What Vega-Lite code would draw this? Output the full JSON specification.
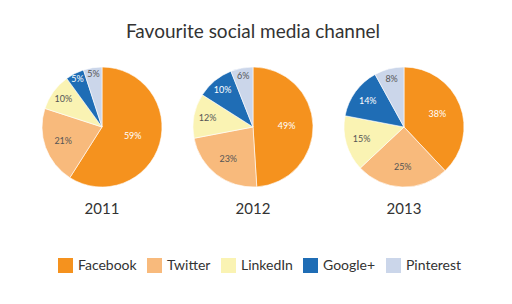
{
  "$schema": "https://vega.github.io/schema/vega-lite/v6.json",
  "padding": {"left": 27, "top": 23, "right": 5, "bottom": 5},
  "background": "white",
  "title": {"text": "Favourite social media channel", "fontSize": 19, "font": "Lato", "fontWeight": "normal", "color": "#333333", "offset": 20, "anchor": "middle"},
  "config": {"view": {"stroke": null}, "font": "Lato"},
  "data": {"values": [
    {"year": "2011", "channel": "Facebook", "k": 1, "share": 59},
    {"year": "2011", "channel": "Twitter", "k": 2, "share": 21},
    {"year": "2011", "channel": "LinkedIn", "k": 3, "share": 10},
    {"year": "2011", "channel": "Google+", "k": 4, "share": 5},
    {"year": "2011", "channel": "Pinterest", "k": 5, "share": 5},
    {"year": "2012", "channel": "Facebook", "k": 1, "share": 49},
    {"year": "2012", "channel": "Twitter", "k": 2, "share": 23},
    {"year": "2012", "channel": "LinkedIn", "k": 3, "share": 12},
    {"year": "2012", "channel": "Google+", "k": 4, "share": 10},
    {"year": "2012", "channel": "Pinterest", "k": 5, "share": 6},
    {"year": "2013", "channel": "Facebook", "k": 1, "share": 38},
    {"year": "2013", "channel": "Twitter", "k": 2, "share": 25},
    {"year": "2013", "channel": "LinkedIn", "k": 3, "share": 15},
    {"year": "2013", "channel": "Google+", "k": 4, "share": 14},
    {"year": "2013", "channel": "Pinterest", "k": 5, "share": 8}
  ]},
  "transform": [{"calculate": "datum.share + '%'", "as": "label"}],
  "facet": {"column": {"field": "year", "type": "ordinal", "title": null,
    "header": {"labelOrient": "bottom", "labelFontSize": 15, "labelFont": "Lato", "labelColor": "#333333", "labelPadding": 10}}},
  "spacing": 1,
  "spec": {
    "width": 150,
    "height": 130,
    "encoding": {
      "theta": {"field": "share", "type": "quantitative", "stack": true},
      "order": {"field": "k", "type": "quantitative"}
    },
    "layer": [
      {
        "mark": {"type": "arc", "outerRadius": 60, "stroke": "white", "strokeWidth": 0.6},
        "encoding": {
          "color": {"field": "channel", "type": "nominal",
            "scale": {"domain": ["Facebook", "Twitter", "LinkedIn", "Google+", "Pinterest"],
                      "range": ["#F5921E", "#F8BA7C", "#FAF3B3", "#1F6DB5", "#CBD6EA"]},
            "legend": {"title": null, "orient": "none", "legendX": 31, "legendY": 196, "direction": "horizontal", "symbolType": "square", "symbolSize": 225, "symbolStrokeWidth": 0, "labelFontSize": 14, "labelFont": "Lato", "labelColor": "#333333", "columnPadding": 10, "labelOffset": 5}
          }
        }
      },
      {
        "mark": {"type": "text", "fontSize": 9, "font": "Lato"},
        "encoding": {
          "radius": {"field": "share", "type": "quantitative", "scale": {"type": "log", "domain": [5, 59], "range": [54, 32]}},
          "text": {"field": "label", "type": "nominal"},
          "color": {"condition": {"test": "datum.channel === 'Facebook' || datum.channel === 'Google+'", "value": "#ffffff"}, "value": "#555555"}
        }
      }
    ]
  }
}
